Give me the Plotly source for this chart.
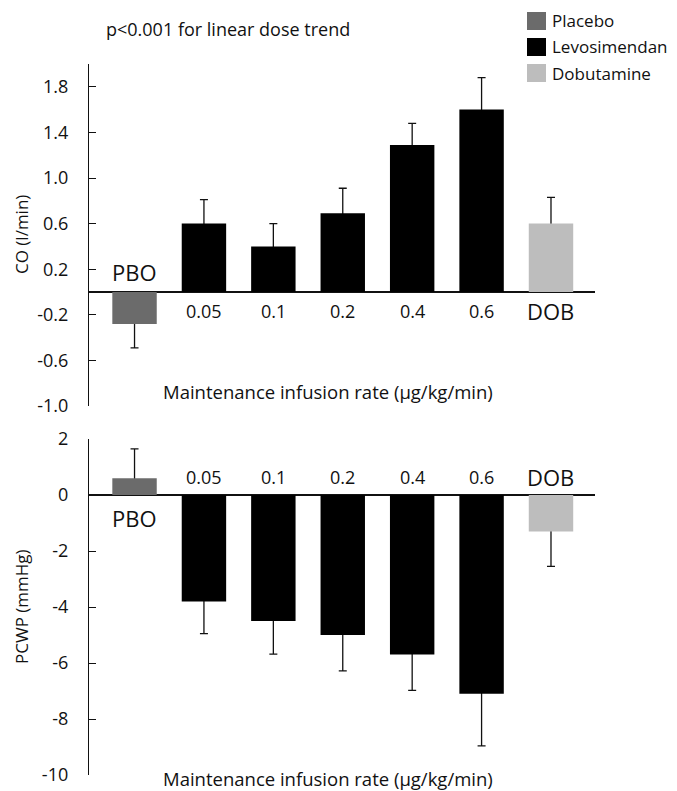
import plotly.graph_objects as go
from plotly.subplots import make_subplots

# categories (bar positions) and their labels
cats = ["PBO", "0.05", "0.1", "0.2", "0.4", "0.6", "DOB"]
groups = ["Placebo", "Levosimendan", "Levosimendan", "Levosimendan",
          "Levosimendan", "Levosimendan", "Dobutamine"]

# change in cardiac output (l/min) and SE
co_vals = [-0.28, 0.60, 0.40, 0.69, 1.29, 1.60, 0.60]
co_err = [0.21, 0.21, 0.20, 0.22, 0.19, 0.28, 0.23]

# change in PCWP (mmHg) and SE
pcwp_vals = [0.6, -3.8, -4.5, -5.0, -5.7, -7.1, -1.3]
pcwp_err = [1.05, 1.15, 1.18, 1.28, 1.28, 1.86, 1.25]

co_ticks = [1.8, 1.4, 1.0, 0.6, 0.2, -0.2, -0.6, -1.0]
pcwp_ticks = [2, 0, -2, -4, -6, -8, -10]

colors = {"Placebo": "#6b6b6b", "Levosimendan": "#000000", "Dobutamine": "#bdbdbd"}
FONT = "Open Sans"
INK = "#111"
OFF = 8                     # page body margin
W, H = 677 - OFF, 791 - OFF
L, R = 89 - OFF, 677 - 595


def px(x):
    # page x pixel -> paper x
    return (x - OFF - L) / (W - L - R)


def py(y):
    # page y pixel -> paper y
    return 1 - (y - OFF) / H


fig = make_subplots(rows=2, cols=1)


def add_bars(vals, errs, row, tuck):
    # whiskers go in a hidden trace underneath, so the inner cap sits inside the bar
    up = [e if v >= 0 else tuck for v, e in zip(vals, errs)]
    down = [tuck if v >= 0 else e for v, e in zip(vals, errs)]
    fig.add_trace(go.Bar(
        x=cats, y=vals, width=0.64, marker_color="rgba(0,0,0,0)", marker_line_width=0,
        showlegend=False, hoverinfo="skip",
        error_y=dict(type="data", symmetric=False, array=up, arrayminus=down,
                     color=INK, thickness=1.3, width=4),
    ), row=row, col=1)
    for g in colors:
        xs = [c for c, gg in zip(cats, groups) if gg == g]
        ys = [v for v, gg in zip(vals, groups) if gg == g]
        fig.add_trace(go.Bar(x=xs, y=ys, width=0.64, marker_color=colors[g],
                             marker_line_width=0, showlegend=False, name=g),
                      row=row, col=1)


add_bars(co_vals, co_err, 1, 0.03)
add_bars(pcwp_vals, pcwp_err, 2, 0.15)

fig.update_xaxes(type="category", categoryorder="array", categoryarray=cats,
                 range=[-0.656, 6.634], showticklabels=False, showline=False,
                 showgrid=False, zeroline=False, ticks="")

fig.update_yaxes(showgrid=False, showline=True, linecolor=INK, linewidth=1.3,
                 ticks="inside", ticklen=7, tickcolor=INK, tickwidth=1.3,
                 zeroline=True, zerolinecolor=INK, zerolinewidth=1.5, automargin=False,
                 ticklabelstandoff=16, tickfont=dict(size=18, color=INK, family=FONT))
fig.update_yaxes(range=[-1.0, 2.0], tickvals=co_ticks,
                 ticktext=["%.1f" % t for t in co_ticks],
                 domain=[py(406), py(64)], row=1, col=1)
fig.update_yaxes(range=[-10, 2], tickvals=pcwp_ticks,
                 ticktext=[str(t) for t in pcwp_ticks],
                 domain=[py(775), py(439)], row=2, col=1)


def text(x, y, s, size, xanchor="center", angle=0):
    return dict(x=px(x), y=py(y), xref="paper", yref="paper", text=s,
                showarrow=False, xanchor=xanchor, yanchor="middle", textangle=angle,
                font=dict(size=size, color=INK, family=FONT))


ann = []
# category labels: (axis, shift for PBO, shift for the others)
for xr, yr, s_pbo, s_rest in (("x", "y", 20, -19), ("x2", "y2", -23, 18)):
    for i, c in enumerate(cats):
        big = c in ("PBO", "DOB")
        ann.append(dict(x=i, y=0, xref=xr, yref=yr, text=c, showarrow=False,
                        yanchor="middle", yshift=s_pbo if c == "PBO" else s_rest,
                        font=dict(size=22 if big else 18, color=INK, family=FONT)))

for yy in (391, 778):
    ann.append(text(328, yy, "Maintenance infusion rate (µg/kg/min)", 18.5))

ann.append(text(104, 29, "p<0.001 for linear dose trend", 18, xanchor="left"))
ann.append(text(21, 235, "CO (l/min)", 17, angle=-90))
ann.append(text(21, 607, "PCWP (mmHg)", 17, angle=-90))

# legend drawn by hand to match the square swatches
shapes = []
for g, yc in zip(colors, (21, 47, 73)):
    shapes.append(dict(type="rect", xref="paper", yref="paper",
                       x0=px(527), x1=px(546), y0=py(yc + 9), y1=py(yc - 9),
                       fillcolor=colors[g], line=dict(width=0)))
    ann.append(text(550, yc, g, 17, xanchor="left"))

fig.update_layout(
    width=W, height=H,
    margin=dict(l=L, r=R, t=0, b=0, autoexpand=False),
    plot_bgcolor="white", paper_bgcolor="white",
    barmode="overlay", showlegend=False,
    annotations=ann, shapes=shapes,
    font=dict(family=FONT, color=INK),
)

fig.write_html("out.html")
